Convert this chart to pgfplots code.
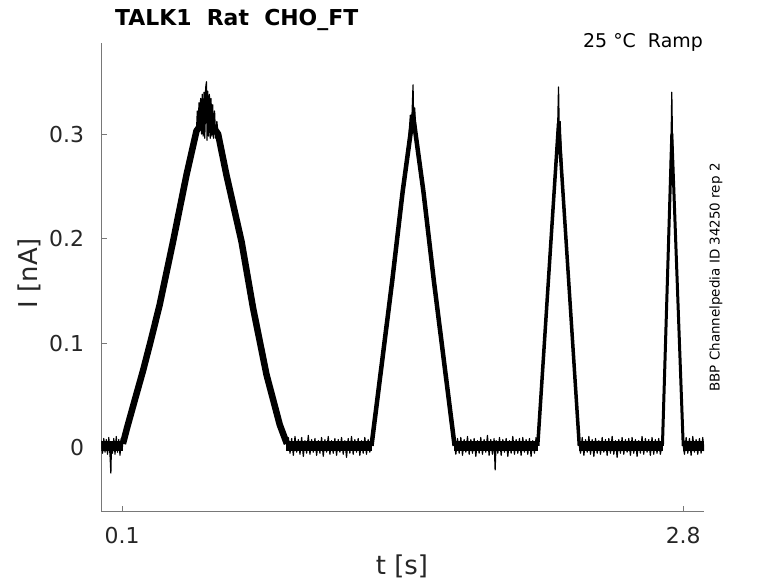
\documentclass[border=0pt]{standalone}
\usepackage{fontspec}
\setmainfont{DejaVu Sans}
\usepackage{pgfplots}
\usepackage{pgfplotstable}
\pgfplotsset{compat=1.18}
\definecolor{axgray}{RGB}{120,120,120}
\definecolor{txt}{RGB}{38,38,38}

\pgfplotstableread{
t I
0.000 0.007
0.006 -0.005
0.012 0.009
0.018 -0.004
0.024 0.008
0.030 -0.006
0.036 0.010
0.042 -0.007
0.046 -0.024
0.049 0.004
0.054 -0.005
0.060 0.009
0.066 -0.006
0.072 0.011
0.078 -0.004
0.084 0.008
0.090 -0.007
0.096 0.009
0.100 -0.002
0.104 0.006
0.125 0.020
0.160 0.045
0.201 0.074
0.240 0.104
0.281 0.137
0.345 0.197
0.410 0.261
0.458 0.303
0.462 0.322
0.466 0.300
0.470 0.330
0.474 0.304
0.478 0.334
0.482 0.300
0.486 0.338
0.490 0.298
0.494 0.340
0.498 0.296
0.502 0.344
0.506 0.350
0.509 0.294
0.512 0.341
0.516 0.298
0.520 0.338
0.524 0.296
0.528 0.334
0.532 0.298
0.536 0.328
0.540 0.296
0.545 0.322
0.550 0.296
0.556 0.312
0.562 0.300
0.602 0.261
0.675 0.197
0.730 0.134
0.795 0.070
0.859 0.022
0.893 0.004
0.900 0.010
0.908 -0.005
0.916 0.009
0.924 -0.007
0.932 0.011
0.940 -0.004
0.948 0.008
0.956 -0.006
0.964 0.010
0.972 -0.008
0.980 0.007
0.988 -0.005
0.996 0.012
1.004 -0.006
1.012 0.008
1.020 -0.004
1.028 0.009
1.036 -0.007
1.044 0.007
1.052 -0.005
1.060 0.010
1.068 -0.008
1.076 0.008
1.084 -0.004
1.092 0.011
1.100 -0.006
1.108 0.007
1.116 -0.005
1.124 0.009
1.132 -0.007
1.140 0.008
1.148 -0.004
1.156 0.010
1.164 -0.006
1.172 0.007
1.180 -0.009
1.188 0.009
1.196 -0.005
1.204 0.011
1.212 -0.006
1.220 0.008
1.228 -0.004
1.236 0.009
1.244 -0.007
1.252 0.007
1.260 -0.005
1.268 0.010
1.276 -0.006
1.284 0.008
1.292 -0.004
1.298 0.004
1.400 0.160
1.450 0.245
1.480 0.298
1.487 0.318
1.492 0.300
1.497 0.330
1.500 0.347
1.503 0.312
1.508 0.325
1.514 0.300
1.550 0.245
1.600 0.160
1.700 0.002
1.706 -0.006
1.714 0.009
1.722 -0.005
1.730 0.010
1.738 -0.007
1.746 0.008
1.754 -0.004
1.762 0.011
1.770 -0.006
1.778 0.008
1.786 -0.005
1.794 0.009
1.802 -0.008
1.810 0.007
1.818 -0.005
1.826 0.010
1.834 -0.006
1.842 0.008
1.850 -0.004
1.858 0.012
1.866 -0.007
1.874 0.008
1.882 -0.006
1.890 0.009
1.895 -0.021
1.900 0.007
1.908 -0.005
1.916 0.010
1.924 -0.007
1.932 0.008
1.940 -0.004
1.948 0.009
1.956 -0.008
1.964 0.007
1.972 -0.005
1.980 0.011
1.988 -0.006
1.996 0.008
2.004 -0.005
2.012 0.009
2.020 -0.007
2.028 0.010
2.036 -0.004
2.044 0.008
2.052 -0.006
2.060 0.009
2.068 -0.008
2.076 0.007
2.084 -0.005
2.092 0.010
2.098 0.002
2.180 0.256
2.190 0.288
2.195 0.300
2.200 0.345
2.204 0.300
2.208 0.312
2.212 0.290
2.220 0.256
2.300 0.002
2.306 -0.005
2.314 0.010
2.322 -0.007
2.330 0.008
2.338 -0.004
2.346 0.011
2.354 -0.006
2.362 0.008
2.370 -0.008
2.378 0.009
2.386 -0.005
2.394 0.007
2.402 -0.006
2.410 0.010
2.418 -0.004
2.426 0.008
2.434 -0.007
2.442 0.009
2.450 -0.005
2.458 0.011
2.466 -0.006
2.474 0.007
2.482 -0.009
2.490 0.008
2.498 -0.005
2.506 0.010
2.514 -0.006
2.522 0.008
2.530 -0.004
2.538 0.009
2.546 -0.007
2.554 0.010
2.562 -0.005
2.570 0.008
2.578 -0.008
2.586 0.007
2.594 -0.005
2.602 0.011
2.610 -0.006
2.618 0.009
2.626 -0.004
2.634 0.008
2.642 -0.007
2.650 0.010
2.658 -0.006
2.666 0.008
2.674 -0.005
2.682 0.009
2.690 -0.006
2.698 0.003
2.735 0.240
2.742 0.300
2.745 0.340
2.748 0.300
2.755 0.240
2.800 0.002
2.806 -0.006
2.814 0.010
2.822 -0.005
2.830 0.009
2.838 -0.007
2.846 0.011
2.854 -0.004
2.862 0.008
2.870 -0.006
2.878 0.009
2.886 -0.005
2.894 0.010
2.900 -0.003
}\trace

\begin{document}
\begin{tikzpicture}
\path[use as bounding box] (0bp,0bp) rectangle (778bp,583bp);
\begin{axis}[
  at={(101.3bp,71.3bp)}, anchor=south west,
  scale only axis, width=602.7bp, height=468.7bp,
  xmin=0, xmax=2.9, ymin=-0.0609, ymax=0.387,
  axis x line=bottom, axis y line=left,
  axis line style={axgray, line width=0.8bp, -},
  tick align=inside, major tick length=6bp,
  tick style={axgray, line width=0.8bp},
  xtick={0.1,2.8}, ytick={0,0.1,0.2,0.3},
  /pgf/number format/assume math mode=true,
  /pgf/number format/fixed,
  xticklabel style={font=\fontsize{22}{22}\selectfont, text=txt, inner sep=0pt, anchor=north, yshift=-15bp},
  yticklabel style={font=\fontsize{22}{22}\selectfont, text=txt, inner sep=0pt, anchor=east, xshift=-17bp},
  clip=true,
]
% baseline noise band core
\addplot[black, line width=10bp] coordinates {(0,0.0015) (0.106,0.0015)};
\addplot[black, line width=10bp] coordinates {(0.890,0.0015) (1.302,0.0015)};
\addplot[black, line width=10bp] coordinates {(1.698,0.0015) (2.102,0.0015)};
\addplot[black, line width=10bp] coordinates {(2.298,0.0015) (2.702,0.0015)};
\addplot[black, line width=10bp] coordinates {(2.798,0.0015) (2.9,0.0015)};
% ramps
\addplot[black, line width=6.5bp, line join=round] coordinates {
(0.104,0.004) (0.125,0.020) (0.160,0.045) (0.201,0.074) (0.240,0.104) (0.281,0.137) (0.345,0.197) (0.410,0.261) (0.458,0.303)
(0.506,0.316) (0.562,0.300) (0.602,0.261) (0.675,0.197) (0.730,0.134) (0.795,0.070) (0.859,0.022) (0.893,0.004)};
\addplot[black, line width=4.5bp, line join=round] coordinates {
(1.30,0.002) (1.40,0.160) (1.45,0.245) (1.50,0.318) (1.55,0.245) (1.60,0.160) (1.70,0.002)};
\addplot[black, line width=3.5bp, line join=round] coordinates {
(2.10,0.002) (2.20,0.310) (2.30,0.002)};
\addplot[black, line width=3bp, line join=round] coordinates {
(2.70,0.002) (2.745,0.300) (2.80,0.002)};
% noisy trace
\addplot[black, line width=1.2bp, line join=round] table[x=t, y=I] {\trace};
\end{axis}
\node[anchor=base west, inner sep=0pt, font=\fontsize{22}{22}\selectfont\bfseries] at (115bp,557bp) {TALK1~~Rat~~CHO\_FT};
\node[anchor=base east, inner sep=0pt, font=\fontsize{19}{19}\selectfont, text=black] at (703bp,535.3bp) {25~°C~~Ramp};
\node[rotate=90, inner sep=0pt, font=\fontsize{13.5}{13.5}\selectfont] at (716bp,305.5bp) {BBP Channelpedia ID 34250 rep 2};
\node[rotate=90, inner sep=0pt, font=\fontsize{26}{26}\selectfont, text=txt] at (29bp,310bp) {I [nA]};
\node[anchor=base, inner sep=0pt, font=\fontsize{26}{26}\selectfont, text=txt] at (402bp,9bp) {t [s]};
\end{tikzpicture}
\end{document}
